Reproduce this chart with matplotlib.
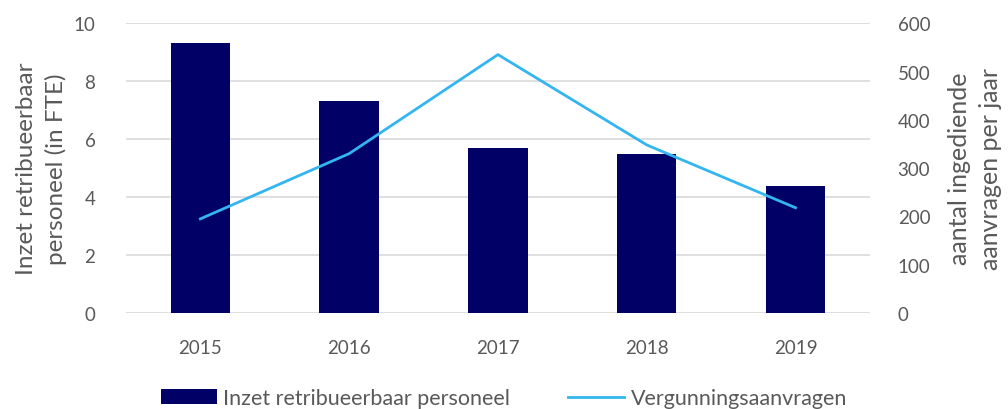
import matplotlib.pyplot as plt
import numpy as np

plt.rcParams['font.family'] = ['Lato', 'DejaVu Sans']

years = ['2015', '2016', '2017', '2018', '2019']
fte = [9.3, 7.3, 5.7, 5.5, 4.4]
aanvragen = [195, 330, 535, 348, 218]

grey = '#595959'
fig = plt.figure(figsize=(10.08, 4.10), dpi=100)
ax = fig.add_axes([0.125, 0.234, 0.738, 0.707])
ax2 = ax.twinx()

x = np.arange(len(years))
bars = ax.bar(x, fte, width=0.4, color='#000066', zorder=3,
              label='Inzet retribueerbaar personeel')
line, = ax2.plot(x, aanvragen, color='#33b5f0', lw=2,
                 label='Vergunningsaanvragen')

ax.set_xlim(-0.5, 4.5)
ax.set_ylim(0, 10)
ax.set_yticks(range(0, 11, 2))
ax2.set_ylim(0, 600)
ax2.set_yticks(range(0, 601, 100))
ax.set_xticks(x)
ax.set_xticklabels(years)

ax.grid(axis='y', color='#d9d9d9', lw=1.2, zorder=0)
for a in (ax, ax2):
    for s in a.spines.values():
        s.set_visible(False)
    a.tick_params(length=0, labelsize=13.5, colors=grey, pad=12)
ax.tick_params(axis='x', pad=19)
ax.tick_params(axis='y', pad=22)
ax2.tick_params(axis='y', pad=20)

ax.set_ylabel('Inzet retribueerbaar\npersoneel (in FTE)', fontsize=17.5,
              color=grey, labelpad=5, linespacing=1.4)
ax2.set_ylabel('aantal ingediende\naanvragen per jaar', fontsize=18,
               color=grey, labelpad=13, linespacing=1.4)

fig.legend([bars, line], [bars.get_label(), line.get_label()],
           loc='lower center', bbox_to_anchor=(0.5, -0.045), ncol=2,
           frameon=False, fontsize=15.5, labelcolor=grey,
           handlelength=2.6, handletextpad=0.3, columnspacing=2.7)

fig.savefig('out.png', dpi=100)
